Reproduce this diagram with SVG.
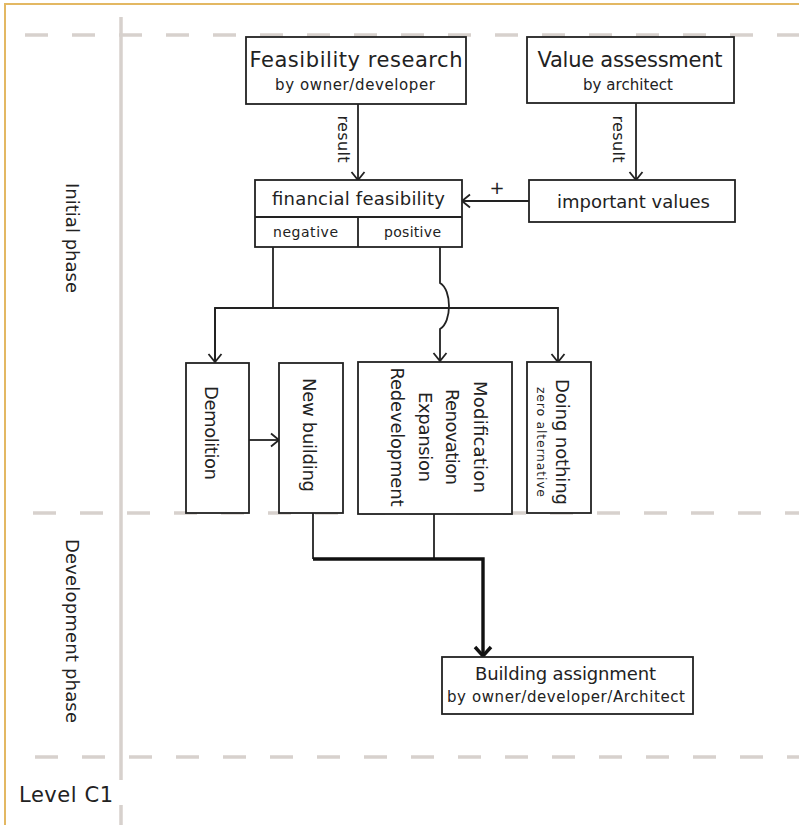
<svg xmlns="http://www.w3.org/2000/svg" width="799" height="825" viewBox="0 0 799 825">
  <style>
    .frame { stroke: #e3b863; stroke-width: 2; fill: none; }
    .grid { stroke: #d7d1cd; stroke-width: 3.5; fill: none; }
    .dash { stroke-dasharray: 23 24; }
    .box { fill: #ffffff; stroke: #222222; stroke-width: 1.8; }
    .sep { stroke: #222222; stroke-width: 1.8; fill: none; }
    .wire { stroke: #222222; stroke-width: 1.8; fill: none; }
    .wire-bold { stroke: #111111; stroke-width: 3.4; fill: none; }
    text { font-family: "DejaVu Sans", "Liberation Sans", sans-serif; fill: #222222; }
    .t21 { font-size: 21px; text-anchor: middle; }
    .t18 { font-size: 18px; text-anchor: middle; }
    .t16 { font-size: 16px; text-anchor: middle; }
    .t15 { font-size: 15px; text-anchor: middle; }
    .t14 { font-size: 14px; text-anchor: middle; }
    .t12 { font-size: 12.5px; text-anchor: middle; }
  </style>
  <defs>
    <marker id="arrow" markerUnits="userSpaceOnUse" markerWidth="20" markerHeight="20" refX="0" refY="0" viewBox="-10 -10 20 20" orient="auto" overflow="visible">
      <path d="M-8,-6.5 L0,0 L-8,6.5" fill="none" stroke="#222222" stroke-width="1.8"/>
    </marker>
    <marker id="arrow-bold" markerUnits="userSpaceOnUse" markerWidth="24" markerHeight="24" refX="0" refY="0" viewBox="-12 -12 24 24" orient="auto" overflow="visible">
      <path d="M-9,-8 L0,0 L-9,8" fill="none" stroke="#111111" stroke-width="3.4"/>
    </marker>
  </defs>

  <rect x="0" y="0" width="799" height="825" fill="#ffffff"/>

  <!-- page frame and phase grid -->
  <g id="frame">
    <path class="frame" d="M5,825 V4 H799"/>
    <path class="grid" d="M121,17 V780 M121,805 V825"/>
    <path class="grid dash" d="M25,35 H799"/>
    <path class="grid dash" d="M33,513 H799"/>
    <path class="grid dash" d="M35,757 H799"/>
  </g>

  <!-- phase labels -->
  <g id="phase-initial">
    <text class="t18" transform="translate(72,238) rotate(90)" y="6.5" textLength="110">Initial phase</text>
  </g>
  <g id="phase-development">
    <text class="t18" transform="translate(72,631) rotate(90)" y="6.5" textLength="184">Development phase</text>
  </g>
  <g id="level-c1">
    <text x="19" y="802" font-size="21" textLength="94">Level C1</text>
  </g>

  <!-- connectors -->
  <g id="connectors">
    <path class="wire" d="M358,104 V180" marker-end="url(#arrow)"/>
    <text class="t16" transform="translate(343,139) rotate(90)" y="5.5" textLength="47">result</text>
    <path class="wire" d="M636,103 V180" marker-end="url(#arrow)"/>
    <text class="t16" transform="translate(618,139) rotate(90)" y="5.5" textLength="47">result</text>
    <path class="wire" d="M529,201 H462" marker-end="url(#arrow)"/>
    <text class="t18" x="497" y="194">+</text>

    <path class="wire" d="M273,247 V308"/>
    <path class="wire" d="M215,362 V308 H558 V362" marker-end="url(#arrow)"/>
    <path class="wire" d="M215,308 V362" marker-end="url(#arrow)"/>
    <path class="wire" d="M440,247 V283 C452,290 452,322 440,329 V361" marker-end="url(#arrow)"/>

    <path class="wire" d="M249,440 H279" marker-end="url(#arrow)"/>

    <path class="wire" d="M313,513 V559"/>
    <path class="wire" d="M434,514 V559"/>
    <path class="wire-bold" d="M313,559 H483 V656" marker-end="url(#arrow-bold)"/>
  </g>

  <!-- nodes -->
  <g id="feasibility-research">
    <rect class="box" x="246" y="37" width="220" height="67"/>
    <text class="t21" x="356" y="67" textLength="213">Feasibility research</text>
    <text class="t15" x="355" y="90" textLength="160">by owner/developer</text>
  </g>

  <g id="value-assessment">
    <rect class="box" x="527" y="37" width="207" height="66"/>
    <text class="t21" x="630" y="67" textLength="185">Value assessment</text>
    <text class="t15" x="628" y="90" textLength="90">by architect</text>
  </g>

  <g id="financial-feasibility">
    <rect class="box" x="255" y="180" width="207" height="67"/>
    <path class="sep" d="M255,217 H462 M358,217 V247"/>
    <text class="t18" x="358.5" y="205" textLength="173">financial feasibility</text>
    <text class="t14" x="305.5" y="237" textLength="65">negative</text>
    <text class="t14" x="412.5" y="237" textLength="57">positive</text>
  </g>

  <g id="important-values">
    <rect class="box" x="529" y="180" width="206" height="42"/>
    <text class="t18" x="633.5" y="208" textLength="153">important values</text>
  </g>

  <g id="demolition">
    <rect class="box" x="186" y="363" width="63" height="150"/>
    <text class="t18" font-size="19" transform="translate(212,433) rotate(90)" y="7" textLength="94">Demolition</text>
  </g>

  <g id="new-building">
    <rect class="box" x="279" y="363" width="64" height="150"/>
    <text class="t18" font-size="19" transform="translate(310,435) rotate(90)" y="7" textLength="114">New building</text>
  </g>

  <g id="modification">
    <rect class="box" x="358" y="362" width="154" height="152"/>
    <g transform="translate(437,437) rotate(90)">
      <text class="t18" x="0" y="-36.5" textLength="112">Modification</text>
      <text class="t18" x="0" y="-9" textLength="96">Renovation</text>
      <text class="t18" x="0" y="18.5" textLength="90">Expansion</text>
      <text class="t18" x="0" y="46" textLength="139">Redevelopment</text>
    </g>
  </g>

  <g id="doing-nothing">
    <rect class="box" x="527" y="362" width="64" height="151"/>
    <text class="t18" font-size="19" transform="translate(563,442) rotate(90)" y="7" textLength="126">Doing nothing</text>
    <text class="t12" transform="translate(541,442) rotate(90)" y="4.5" textLength="110">zero alternative</text>
  </g>

  <g id="building-assignment">
    <rect class="box" x="442" y="657" width="251" height="57"/>
    <text class="t18" x="565.5" y="680" textLength="181">Building assignment</text>
    <text class="t15" x="566" y="702" textLength="238">by owner/developer/Architect</text>
  </g>
</svg>
